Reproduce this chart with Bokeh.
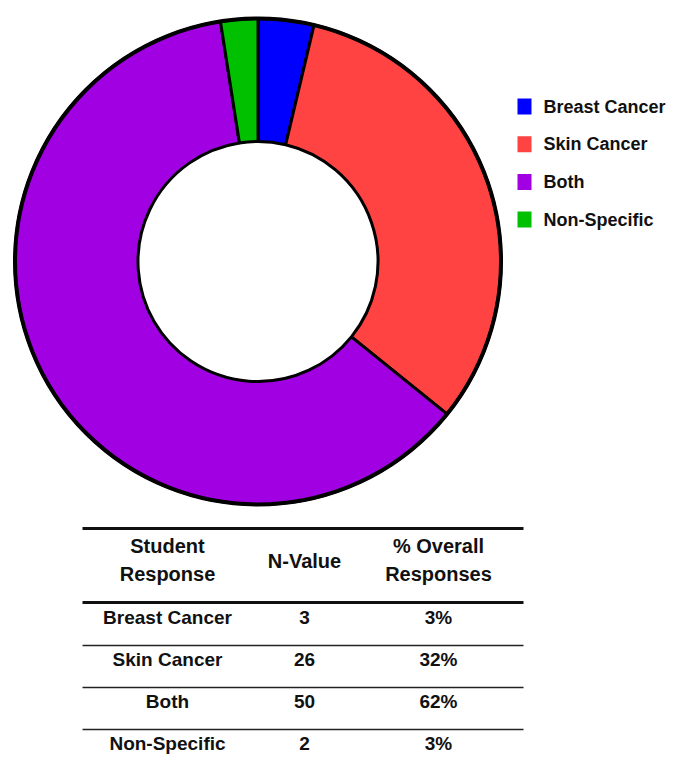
import math

from bokeh.core.properties import value
from bokeh.embed import file_html
from bokeh.models import ColumnDataSource, Range1d
from bokeh.plotting import figure
from bokeh.resources import INLINE

# Survey data
categories = ["Breast Cancer", "Skin Cancer", "Both", "Non-Specific"]
n_values = [3, 26, 50, 2]
pct_labels = ["3%", "32%", "62%", "3%"]
colors = ["#0000ff", "#ff4343", "#a100e3", "#00c000"]

header_lines = [["Student", "Response"], ["N-Value"], ["% Overall", "Responses"]]

W, H = 674, 765
FONT = value("Liberation Sans")


def py(y):
    """Convert a top-down pixel position to the figure's bottom-up y axis."""
    return H - y


p = figure(width=W, height=H, output_backend="svg", toolbar_location=None,
           x_range=Range1d(0, W), y_range=Range1d(0, H), min_border=0)
p.axis.visible = False
p.grid.visible = False
p.outline_line_color = None
p.background_fill_color = "white"
p.border_fill_color = "white"

# Donut: slices start at 12 o'clock and run clockwise
total = sum(n_values)
starts, ends = [], []
cum = 0
for n in n_values:
    a0 = math.pi / 2 - 2 * math.pi * cum / total
    cum += n
    a1 = math.pi / 2 - 2 * math.pi * cum / total
    starts.append(a1)
    ends.append(a0)

cx, cy = 257.5, py(261)
donut = ColumnDataSource(dict(start=starts, end=ends, color=colors))
p.annular_wedge(x=cx, y=cy, inner_radius=120, outer_radius=243,
                start_angle="start", end_angle="end", fill_color="color",
                line_color="black", line_width=3, source=donut)
# heavier outer rim
p.circle(x=cx, y=cy, radius=243, fill_color=None, line_color="black", line_width=4)

# Legend
leg_y = [py(106 + i * 37.7) for i in range(len(categories))]
legend = ColumnDataSource(dict(y=leg_y, label=categories, color=colors))
p.rect(x=524, y="y", width=14, height=16, fill_color="color", line_color=None,
       source=legend)
p.text(x=543, y="y", text="label", text_font=FONT, text_font_style="bold",
       text_font_size="18px", text_align="left", text_baseline="middle",
       text_color="#111111", source=legend)

# Table
col_x = [167, 304, 438]
x0, x1 = 82, 523
p.segment(x0=x0, y0=py(528), x1=x1, y1=py(528), line_color="#111111", line_width=3)
p.segment(x0=x0, y0=py(602), x1=x1, y1=py(602), line_color="#111111", line_width=3)

for cxh, lines in zip(col_x, header_lines):
    if len(lines) == 2:
        ys = [py(545), py(573)]
    else:
        ys = [py(560)]
    p.text(x=[cxh] * len(lines), y=ys, text=lines, text_font=FONT,
           text_font_style="bold", text_font_size="20px", text_align="center",
           text_baseline="middle", text_color="#111111")

row_y = [py(617 + 42 * i) for i in range(len(categories))]
for i in range(len(categories) - 1):
    yl = py(645 + 42 * i)
    p.segment(x0=x0, y0=yl, x1=x1, y1=yl, line_color="#222222", line_width=1.5)

rows = ColumnDataSource(dict(y=row_y, cat=categories,
                             n=[str(v) for v in n_values], pct=pct_labels))
for cxh, field in zip(col_x, ["cat", "n", "pct"]):
    p.text(x=cxh, y="y", text=field, text_font=FONT, text_font_style="bold",
           text_font_size="19px", text_align="center", text_baseline="middle",
           text_color="#111111", source=rows)

open("out.html", "w").write(file_html(p, INLINE))
